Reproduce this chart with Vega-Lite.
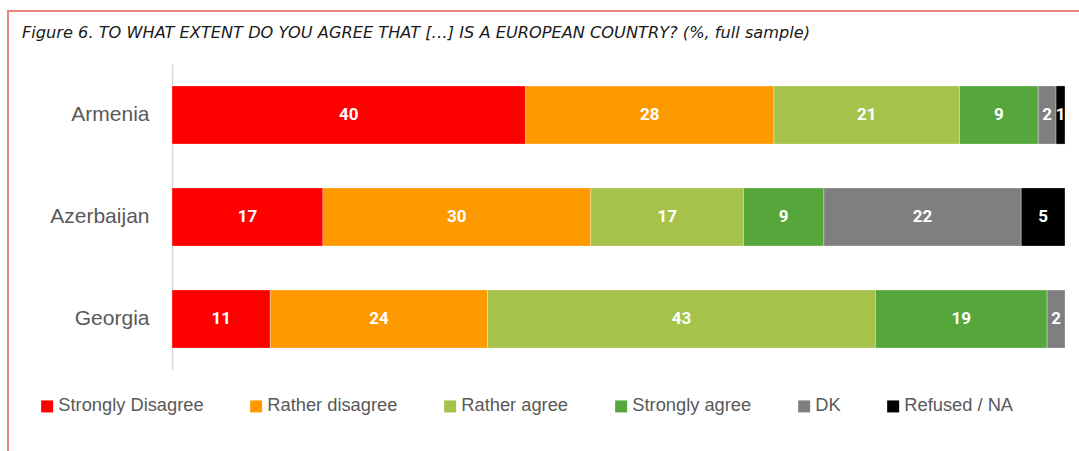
{
  "$schema": "https://vega.github.io/schema/vega-lite/v6.json",
  "width": 1080,
  "height": 450,
  "autosize": "none",
  "padding": {"left": 8, "top": 11, "right": 0, "bottom": 0},
  "background": "white",
  "config": {
    "view": {"stroke": "#E8837A", "strokeWidth": 2},
    "font": "Liberation Sans"
  },
  "title": {
    "text": "Figure 6. TO WHAT EXTENT DO YOU AGREE THAT […] IS A EUROPEAN COUNTRY? (%, full sample)",
    "anchor": "start",
    "frame": "group",
    "orient": "top",
    "offset": -43,
    "baseline": "alphabetic",
    "dx": 14,
    "font": "DejaVu Sans",
    "fontStyle": "italic",
    "fontWeight": "normal",
    "fontSize": 16.2,
    "color": "#1a1a1a"
  },
  "data": {
    "values": [
      {"country": "Armenia", "answer": "Strongly Disagree", "code": 1, "pct": 39.6},
      {"country": "Armenia", "answer": "Rather disagree", "code": 2, "pct": 27.8},
      {"country": "Armenia", "answer": "Rather agree", "code": 3, "pct": 20.8},
      {"country": "Armenia", "answer": "Strongly agree", "code": 4, "pct": 8.8},
      {"country": "Armenia", "answer": "DK", "code": 5, "pct": 2.0},
      {"country": "Armenia", "answer": "Refused / NA", "code": 6, "pct": 1.0},
      {"country": "Azerbaijan", "answer": "Strongly Disagree", "code": 1, "pct": 16.9},
      {"country": "Azerbaijan", "answer": "Rather disagree", "code": 2, "pct": 30.0},
      {"country": "Azerbaijan", "answer": "Rather agree", "code": 3, "pct": 17.1},
      {"country": "Azerbaijan", "answer": "Strongly agree", "code": 4, "pct": 9.0},
      {"country": "Azerbaijan", "answer": "DK", "code": 5, "pct": 22.1},
      {"country": "Azerbaijan", "answer": "Refused / NA", "code": 6, "pct": 4.9},
      {"country": "Georgia", "answer": "Strongly Disagree", "code": 1, "pct": 11.0},
      {"country": "Georgia", "answer": "Rather disagree", "code": 2, "pct": 24.3},
      {"country": "Georgia", "answer": "Rather agree", "code": 3, "pct": 43.4},
      {"country": "Georgia", "answer": "Strongly agree", "code": 4, "pct": 19.2},
      {"country": "Georgia", "answer": "DK", "code": 5, "pct": 2.0}
    ]
  },
  "encoding": {
    "y": {
      "field": "country",
      "type": "nominal",
      "sort": ["Armenia", "Azerbaijan", "Georgia"],
      "scale": {"range": [53, 359], "paddingInner": 0.43, "paddingOuter": 0.215},
      "axis": {
        "title": null,
        "offset": -164,
        "labelPadding": 23,
        "ticks": false,
        "domainColor": "#d9d9d9",
        "domainWidth": 1.5,
        "labelFontSize": 21,
        "labelColor": "#595959",
        "labelFont": "Liberation Sans",
        "grid": false
      }
    },
    "x": {
      "field": "pct",
      "type": "quantitative",
      "stack": "normalize",
      "scale": {"domain": [-0.18365, 1.02576], "range": [0, 1080], "nice": false, "zero": false},
      "axis": null
    },
    "order": {"field": "code", "type": "quantitative", "sort": "ascending"}
  },
  "layer": [
    {
      "mark": {"type": "bar", "stroke": "white", "strokeWidth": 0.5, "strokeOpacity": 0.6},
      "encoding": {
        "color": {
          "field": "answer",
          "type": "nominal",
          "scale": {
            "domain": ["Strongly Disagree", "Rather disagree", "Rather agree", "Strongly agree", "DK", "Refused / NA"],
            "range": ["#FF0000", "#FF9900", "#A5C34A", "#55A73C", "#7F7F7F", "#000000"]
          },
          "legend": {
            "title": null,
            "orient": "none",
            "legendX": 30,
            "legendY": 386,
            "direction": "horizontal",
            "symbolType": "square",
            "symbolSize": 144,
            "symbolStrokeWidth": 0,
            "labelFontSize": 18.3,
            "labelColor": "#595959",
            "labelFont": "Liberation Sans",
            "labelOffset": 2,
            "columnPadding": 43,
            "padding": 0
          }
        }
      }
    },
    {
      "mark": {"type": "text", "color": "white", "font": "Roboto", "fontWeight": "bold", "fontSize": 17, "baseline": "middle"},
      "encoding": {
        "x": {
          "field": "pct",
          "type": "quantitative",
          "stack": "normalize",
          "bandPosition": 0.5
        },
        "text": {"field": "pct", "type": "quantitative", "format": ".0f"}
      }
    }
  ]
}
